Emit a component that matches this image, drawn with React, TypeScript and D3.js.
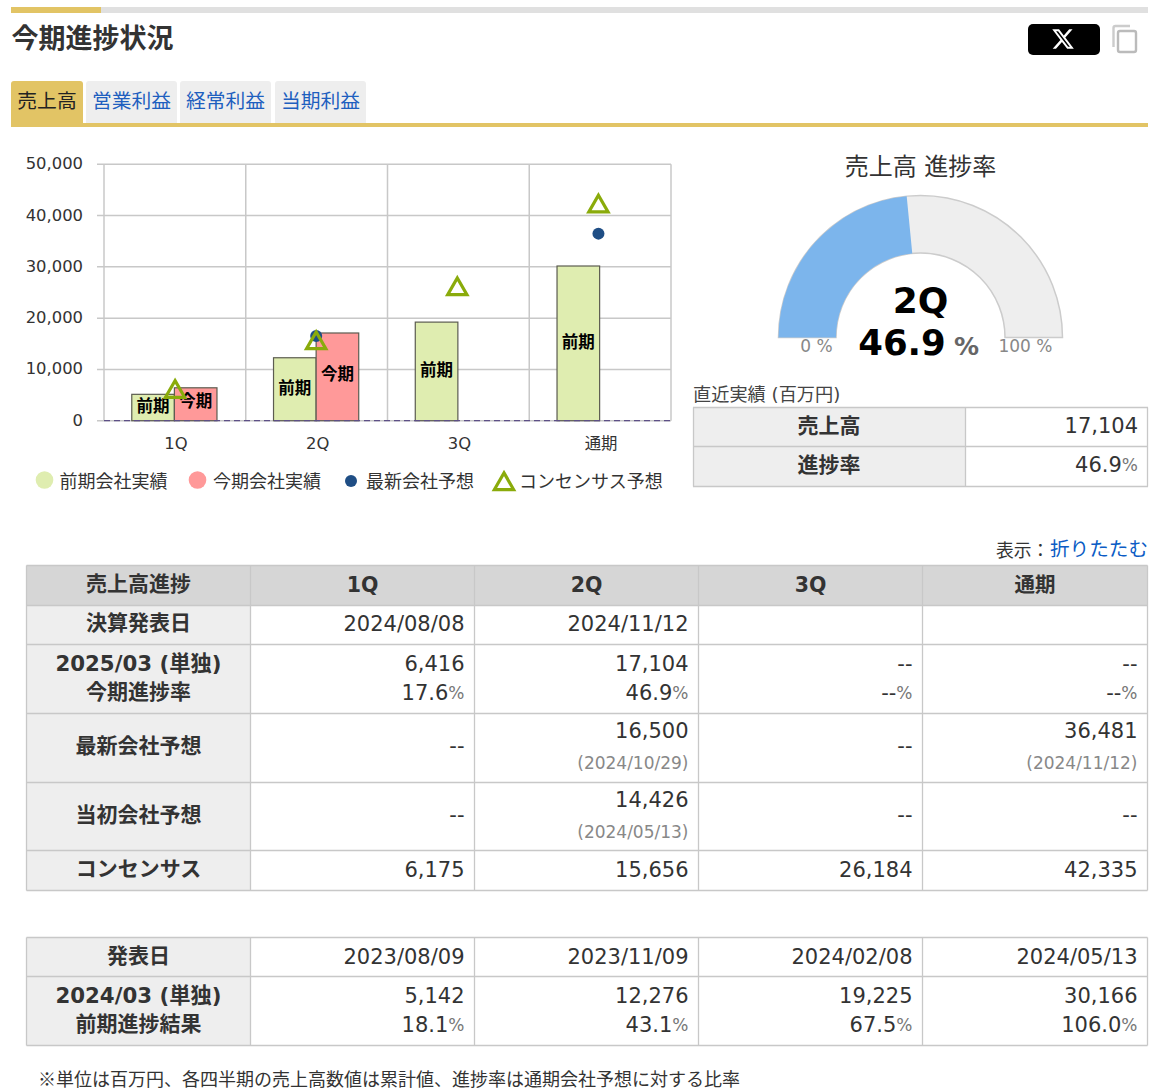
import * as d3 from "d3";
import { useEffect, useRef } from "react";

const quarters = ["1Q", "2Q", "3Q", "通期"];
const prevActual = [5142, 12276, 19225, 30166];
const curActual = [6416, 17104, null, null];
const latestForecast = [null, 16500, null, 36481];
const initialForecast = [null, 14426, null, null];
const consensus = [6175, 15656, 26184, 42335];
const yTicks = [0, 10000, 20000, 30000, 40000, 50000];

const tabs = ["売上高", "営業利益", "経常利益", "当期利益"];
const legendLabels = ["前期会社実績", "今期会社実績", "最新会社予想", "コンセンサス予想"];

const progressQuarter = "2Q";
const progressRate = 46.9;
const latestSales = 17104;

const announceDates = ["2024/08/08", "2024/11/12", "", ""];
const curRates = ["17.6", "46.9", "--", "--"];
const latestForecastDates = ["", "2024/10/29", "", "2024/11/12"];
const initialForecastDates = ["", "2024/05/13", "", ""];
const prevDates = ["2023/08/09", "2023/11/09", "2024/02/08", "2024/05/13"];
const prevRates = ["18.1", "43.1", "67.5", "106.0"];

const FONT = "'DejaVu Sans', 'Noto Sans CJK JP', sans-serif";
const JP = "'Noto Sans CJK JP', sans-serif";
const GOLD = "#e2c465";
const LINE = "#c8c8c8";
const GREEN = "#dfedb0";
const RED = "#ff9999";
const NAVY = "#1f4e85";
const OLIVE = "#8aab0b";
const NUM = 21;
const num = d3.format(",");
const show = (v: number | null) => (v == null ? "--" : num(v));

type Sel = d3.Selection<SVGSVGElement, unknown, null, undefined>;

function label(svg: Sel, x: number, y: number, t: string, size: number, opts: any = {}) {
  return svg
    .append("text")
    .attr("x", x)
    .attr("y", y)
    .attr("dominant-baseline", "central")
    .attr("text-anchor", opts.anchor || "start")
    .attr("font-family", opts.family || FONT)
    .attr("font-size", size)
    .attr("font-weight", opts.bold ? 700 : 400)
    .attr("fill", opts.fill || "#333")
    .text(t);
}

function rect(svg: Sel, x0: number, y0: number, x1: number, y1: number, fill: string, stroke = "none") {
  return svg
    .append("rect")
    .attr("x", x0)
    .attr("y", y0)
    .attr("width", x1 - x0)
    .attr("height", y1 - y0)
    .attr("fill", fill)
    .attr("stroke", stroke);
}

// number cell with a small grey % on the end
function rate(svg: Sel, x: number, y: number, v: string) {
  const t = label(svg, x, y, "", NUM, { anchor: "end" });
  t.append("tspan").text(v);
  t.append("tspan").attr("font-size", 17).attr("fill", "#777").text("%");
}

function drawChart(svg: Sel) {
  const x = d3.scaleBand().domain(quarters).range([104, 671]);
  // bars and markers are not quite on the grid's band centres
  const bx = d3.scaleBand().domain(quarters).range([103.5, 670.5]);
  const mx = d3.scaleBand().domain(quarters).range([104.5, 669]);
  const y = d3.scaleLinear().domain([0, 50000]).range([420.7, 164.3]);
  const barW = 42.6;
  const mid = (q: string) => (mx(q) as number) + mx.bandwidth() / 2;
  const barMid = (q: string) => (bx(q) as number) + bx.bandwidth() / 2;
  const gridMid = (q: string) => (x(q) as number) + x.bandwidth() / 2;

  yTicks.forEach(t => {
    svg.append("line").attr("x1", 97).attr("x2", 671).attr("y1", y(t)).attr("y2", y(t)).attr("stroke", LINE).attr("stroke-width", 1.5);
    label(svg, 83, y(t) - 0.5, num(t), 16.4, { anchor: "end" });
  });
  [...quarters.map(q => x(q) as number), 671].forEach(v => {
    svg.append("line").attr("x1", v).attr("x2", v).attr("y1", y(50000)).attr("y2", y(0)).attr("stroke", LINE).attr("stroke-width", 1.5);
  });

  quarters.forEach((q, i) => {
    const cur = curActual[i];
    const c = barMid(q);
    const px = c - barW;
    const h = y(0) - y(prevActual[i]);
    rect(svg, px, y(prevActual[i]), c, y(0), GREEN, "#5c5c50").attr("stroke-width", 1.2);
    label(svg, (px + c) / 2, y(prevActual[i]) + h / 2 - 2.5, "前期", 16.5, { anchor: "middle", bold: true, family: JP, fill: "#000" });
    if (cur != null) {
      const ch = y(0) - y(cur);
      rect(svg, c, y(cur), c + barW, y(0), RED, "#5c5c50").attr("stroke-width", 1.2);
      label(svg, c + barW / 2, y(cur) + ch / 2 - 4, "今期", 16.5, { anchor: "middle", bold: true, family: JP, fill: "#000" });
    }
    label(svg, gridMid(q) + 1, 443, q, 16.4, { anchor: "middle" });
  });

  svg.append("line").attr("x1", 104).attr("x2", 671).attr("y1", y(0)).attr("y2", y(0)).attr("stroke", "#5d4f86").attr("stroke-width", 1.3).attr("stroke-dasharray", "6,4");

  quarters.forEach((q, i) => {
    const f = latestForecast[i];
    if (f != null) svg.append("circle").attr("cx", mid(q)).attr("cy", y(f)).attr("r", 6).attr("fill", NAVY);
  });
  const tri = d3.symbol().type(d3.symbolTriangle).size(160);
  quarters.forEach((q, i) => {
    svg
      .append("path")
      .attr("d", tri() as string)
      .attr("transform", `translate(${mid(q)},${y(consensus[i]) + 2.7})`)
      .attr("fill", "none")
      .attr("stroke", OLIVE)
      .attr("stroke-width", 3.2);
  });

  // Legend
  svg.append("circle").attr("cx", 44.5).attr("cy", 480).attr("r", 8.8).attr("fill", GREEN);
  label(svg, 59.5, 480, legendLabels[0], 18, { family: JP });
  svg.append("circle").attr("cx", 197.5).attr("cy", 480).attr("r", 8.8).attr("fill", RED);
  label(svg, 213, 480, legendLabels[1], 18, { family: JP });
  svg.append("circle").attr("cx", 351).attr("cy", 481).attr("r", 6).attr("fill", NAVY);
  label(svg, 366, 480, legendLabels[2], 18, { family: JP });
  svg.append("path").attr("d", tri() as string).attr("transform", "translate(504,484)").attr("fill", "none").attr("stroke", OLIVE).attr("stroke-width", 3.2);
  label(svg, 519, 480, legendLabels[3], 18, { family: JP });
}

function drawGauge(svg: Sel) {
  const angle = d3.scaleLinear().domain([0, 100]).range([-Math.PI / 2, Math.PI / 2]);
  const arc = d3.arc<any>().innerRadius(84.5).outerRadius(142);
  const g = svg.append("g").attr("transform", "translate(920.5,337.5)");
  g.append("path")
    .attr("d", arc({ startAngle: angle(0), endAngle: angle(100) }))
    .attr("fill", "#eeeeee")
    .attr("stroke", "#cccccc")
    .attr("stroke-width", 1.5);
  g.append("path")
    .attr("d", arc({ startAngle: angle(0), endAngle: angle(progressRate) }))
    .attr("fill", "#7cb5ec");

  label(svg, 920.5, 167, "売上高 進捗率", 24, { anchor: "middle", family: FONT });
  label(svg, 920.5, 300, progressQuarter, 36, { anchor: "middle", bold: true, fill: "#000" });
  label(svg, 902, 342, String(progressRate), 35.5, { anchor: "middle", bold: true, fill: "#000" });
  label(svg, 966.5, 346, "%", 25, { anchor: "middle", bold: true, fill: "#666" });
  label(svg, 816.5, 346, "0 %", 17, { anchor: "middle", fill: "#888" });
  label(svg, 1025.5, 346, "100 %", 17, { anchor: "middle", fill: "#888" });

  label(svg, 693, 394, "直近実績 (百万円)", 18.2, { fill: "#444" });
  const rows = [407.5, 446.5, 486.5];
  rect(svg, 693.5, rows[0], 965.5, rows[2], "#eeeeee");
  rows.forEach(r => svg.append("line").attr("x1", 693).attr("x2", 1148).attr("y1", r).attr("y2", r).attr("stroke", LINE).attr("stroke-width", 1.3));
  [693.5, 965.5, 1147.5].forEach(c => svg.append("line").attr("x1", c).attr("x2", c).attr("y1", rows[0]).attr("y2", rows[2]).attr("stroke", LINE).attr("stroke-width", 1.3));
  label(svg, 829, 426, "売上高", 21, { anchor: "middle", bold: true });
  label(svg, 829, 465, "進捗率", 21, { anchor: "middle", bold: true });
  label(svg, 1138, 426, num(latestSales), NUM, { anchor: "end" });
  rate(svg, 1138, 465, String(progressRate));
}

const cols = [26.5, 250.5, 474.5, 698.5, 922.5, 1147.5];

function grid(svg: Sel, rows: number[]) {
  rows.forEach(r => svg.append("line").attr("x1", cols[0]).attr("x2", cols[5]).attr("y1", r).attr("y2", r).attr("stroke", LINE).attr("stroke-width", 1.3));
  cols.forEach(c => svg.append("line").attr("x1", c).attr("x2", c).attr("y1", rows[0]).attr("y2", rows[rows.length - 1]).attr("stroke", LINE).attr("stroke-width", 1.3));
}

function drawTables(svg: Sel) {
  const labelX = (cols[0] + cols[1]) / 2;
  const rows = [565.5, 605.5, 644.5, 713.5, 782.5, 850.5, 890.5];
  const prevRows = [937.5, 976.5, 1045.5];

  label(svg, 996, 550, "表示：", 17.8, { fill: "#333" });
  label(svg, 1148, 549, "折りたたむ", 19.6, { anchor: "end", fill: "#0b5cc5" });

  rect(svg, cols[0], rows[0], cols[5], rows[1], "#d6d6d6");
  rect(svg, cols[0], rows[1], cols[1], rows[6], "#eeeeee");
  rect(svg, cols[0], prevRows[0], cols[1], prevRows[2], "#eeeeee");
  grid(svg, rows);
  grid(svg, prevRows);

  label(svg, labelX, 584, "売上高進捗", 21, { anchor: "middle", bold: true });
  label(svg, labelX, 623, "決算発表日", 21, { anchor: "middle", bold: true });
  label(svg, labelX, 663, "2025/03 (単独)", 21.3, { anchor: "middle", bold: true });
  label(svg, labelX, 692, "今期進捗率", 21, { anchor: "middle", bold: true });
  label(svg, labelX, 746, "最新会社予想", 21, { anchor: "middle", bold: true });
  label(svg, labelX, 815, "当初会社予想", 21, { anchor: "middle", bold: true });
  label(svg, labelX, 869, "コンセンサス", 21, { anchor: "middle", bold: true });

  quarters.forEach((q, i) => {
    const rx = cols[i + 2] - 10;
    label(svg, (cols[i + 1] + cols[i + 2]) / 2, 585, q, 20.5, { anchor: "middle", bold: true });
    if (announceDates[i]) label(svg, rx, 623.5, announceDates[i], NUM, { anchor: "end" });
    label(svg, rx, 663.5, show(curActual[i]), NUM, { anchor: "end" });
    rate(svg, rx, 693, curRates[i]);

    const lf = latestForecast[i];
    label(svg, rx, lf == null ? 746 : 731, show(lf), NUM, { anchor: "end" });
    if (latestForecastDates[i]) label(svg, rx, 762.5, `(${latestForecastDates[i]})`, 17, { anchor: "end", fill: "#888" });

    const inf = initialForecast[i];
    label(svg, rx, inf == null ? 815 : 800, show(inf), NUM, { anchor: "end" });
    if (initialForecastDates[i]) label(svg, rx, 831.5, `(${initialForecastDates[i]})`, 17, { anchor: "end", fill: "#888" });

    label(svg, rx, 870, show(consensus[i]), NUM, { anchor: "end" });

    label(svg, rx, 956.5, prevDates[i], NUM, { anchor: "end" });
    label(svg, rx, 995.5, show(prevActual[i]), NUM, { anchor: "end" });
    rate(svg, rx, 1025, prevRates[i]);
  });

  label(svg, labelX, 956, "発表日", 21, { anchor: "middle", bold: true });
  label(svg, labelX, 995, "2024/03 (単独)", 21.3, { anchor: "middle", bold: true });
  label(svg, labelX, 1024, "前期進捗結果", 21, { anchor: "middle", bold: true });

  label(svg, 38, 1077.5, "※単位は百万円、各四半期の売上高数値は累計値、進捗率は通期会社予想に対する比率", 18, { family: JP });
}

function drawHeader(svg: Sel) {
  rect(svg, 11, 7, 1148, 13, "#e0e0e0");
  rect(svg, 11, 7, 101, 13, GOLD);
  label(svg, 11.5, 36.5, "今期進捗状況", 27, { bold: true, family: JP });

  svg.append("rect").attr("x", 1028).attr("y", 24).attr("width", 72).attr("height", 31).attr("rx", 5).attr("fill", "#000");
  svg
    .append("path")
    .attr("d", "M18.244 2.25h3.308l-7.227 8.26 8.502 11.24H16.17l-5.214-6.817L4.99 21.75H1.68l7.73-8.835L1.254 2.25H8.08l4.713 6.231zm-1.161 17.52h1.833L7.084 4.126H5.117z")
    .attr("transform", "translate(1051,27)")
    .attr("fill", "#fff");
  svg.append("rect").attr("x", 1118).attr("y", 31).attr("width", 18).attr("height", 21).attr("rx", 2).attr("fill", "none").attr("stroke", "#bbb").attr("stroke-width", 2.4);
  svg.append("path").attr("d", "M1113.5 47V28q0-2 2-2H1130").attr("fill", "none").attr("stroke", "#ccc").attr("stroke-width", 2.4);

  const tabEdges = [[11, 83], [86, 177], [180, 271], [275, 366]];
  tabs.forEach((t, i) => {
    const [a, b] = tabEdges[i];
    svg
      .append("path")
      .attr("d", `M${a} 124V84q0-3 3-3H${b - 3}q3 0 3 3V124Z`)
      .attr("fill", i === 0 ? GOLD : "#eeeeee");
    label(svg, (a + b) / 2, 99.5, t, 19.8, { anchor: "middle", family: JP, fill: i === 0 ? "#222" : "#1e5fbf" });
  });
  rect(svg, 11, 123, 1148, 127, GOLD);
}

export default function App() {
  const ref = useRef<SVGSVGElement>(null);

  useEffect(() => {
    if (!ref.current) return;
    const svg = d3.select(ref.current) as unknown as Sel;
    svg.selectAll("*").remove();
    drawHeader(svg);
    drawChart(svg);
    drawGauge(svg);
    drawTables(svg);
  }, []);

  return <svg ref={ref} width={1164} height={1092} style={{ position: "absolute", left: 0, top: 0, display: "block", background: "#fff" }} />;
}
